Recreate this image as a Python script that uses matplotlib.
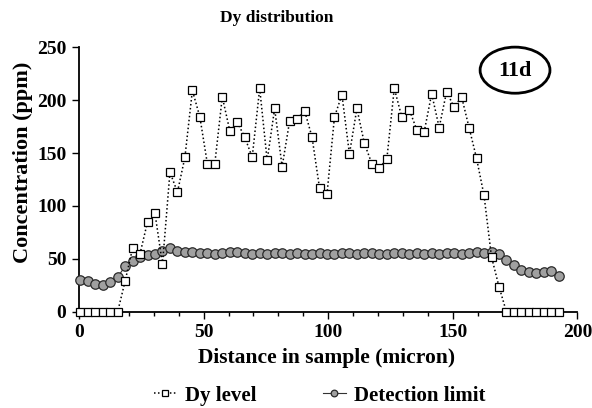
import matplotlib
matplotlib.use("Agg")
import matplotlib.pyplot as plt
from matplotlib.patches import Ellipse
from matplotlib.ticker import MultipleLocator

# ---- data ----
x_pos = [0.5 + 3 * k for k in range(65)]

dy_level = [0, 0, 0, 0, 0, 0, 29, 60, 55, 85, 93, 45, 132, 113, 146, 209,
            184, 140, 140, 203, 171, 179, 165, 146, 211, 143, 192, 137, 180,
            182, 190, 165, 117, 111, 184, 205, 149, 192, 159, 140, 136, 144,
            211, 184, 191, 172, 170, 206, 174, 208, 193, 203, 174, 145, 110,
            52, 24, 0, 0, 0, 0, 0, 0, 0, 0]

detection_limit = [30, 29, 26, 25, 28, 33, 43, 48, 52, 54, 55, 58, 60, 58,
                   57, 57, 56, 56, 55, 56, 57, 57, 56, 55, 56, 55, 56, 56,
                   55, 56, 55, 55, 56, 55, 55, 56, 56, 55, 56, 56, 55, 55,
                   56, 56, 55, 56, 55, 56, 55, 56, 56, 55, 56, 57, 56, 57,
                   55, 49, 44, 40, 38, 37, 38, 39, 34]

title = "Dy distribution"
xlabel = "Distance in sample (micron)"
ylabel = "Concentration (ppm)"
series_names = ["Dy level", "Detection limit"]
tag = "11d"

plt.rcParams['font.family'] = ['Liberation Serif', 'DejaVu Serif']
plt.rcParams['font.weight'] = 'bold'

fig = plt.figure(figsize=(5.92, 4.08), dpi=100)
ax = fig.add_axes([0.1334, 0.2353, 0.8421, 0.6495])

ax.plot(x_pos, detection_limit, color='#333333', lw=0.8, marker='o',
        markersize=6.8, markerfacecolor='#a0a0a0', markeredgecolor='#2a2a2a',
        markeredgewidth=0.9, clip_on=False, zorder=3, label=series_names[1])
ax.plot(x_pos, dy_level, color='black', lw=1.1, ls=(0, (1.0, 1.6)),
        marker='s', markersize=6, markerfacecolor='white',
        markeredgecolor='black', markeredgewidth=0.9, clip_on=False,
        zorder=4, label=series_names[0])

ax.set_xlim(0, 200)
ax.set_ylim(0, 250)
ax.xaxis.set_major_locator(MultipleLocator(50))
ax.xaxis.set_minor_locator(MultipleLocator(10))
ax.yaxis.set_major_locator(MultipleLocator(50))
for s in ['top', 'right']:
    ax.spines[s].set_visible(False)
ax.spines['left'].set_linewidth(1.3)
ax.spines['bottom'].set_linewidth(1.3)
ax.tick_params(axis='both', which='major', direction='out', length=5,
               width=1.0, labelsize=14, pad=4)
ax.tick_params(axis='x', which='minor', direction='out', length=3, width=1.0)
for lab in ax.get_xticklabels() + ax.get_yticklabels():
    lab.set_fontweight('bold')

ax.set_xlabel(xlabel, fontsize=15.5, fontweight='bold')
ax.set_ylabel(ylabel, fontsize=16, fontweight='bold')
ax.xaxis.set_label_coords(0.496, -0.136)
ax.yaxis.set_label_coords(-0.092, 0.566)
fig.text(0.468, 0.956, title, ha='center', va='center', fontsize=12.5,
         fontweight='bold')

# tag in ellipse
ell = Ellipse((0.870, 0.828), 0.118, 0.113, transform=fig.transFigure,
              facecolor='white', edgecolor='black', lw=2.0)
fig.add_artist(ell)
fig.text(0.870, 0.826, tag, ha='center', va='center', fontsize=16,
         fontweight='bold')

h, l = ax.get_legend_handles_labels()
leg = fig.legend(h[::-1], l[::-1], loc='center', bbox_to_anchor=(0.54, 0.03),
                 ncol=2, frameon=False, fontsize=15, handlelength=1.1,
                 columnspacing=3.2, handletextpad=0.4, markerscale=0.7)

fig.savefig("out.png", dpi=100)
